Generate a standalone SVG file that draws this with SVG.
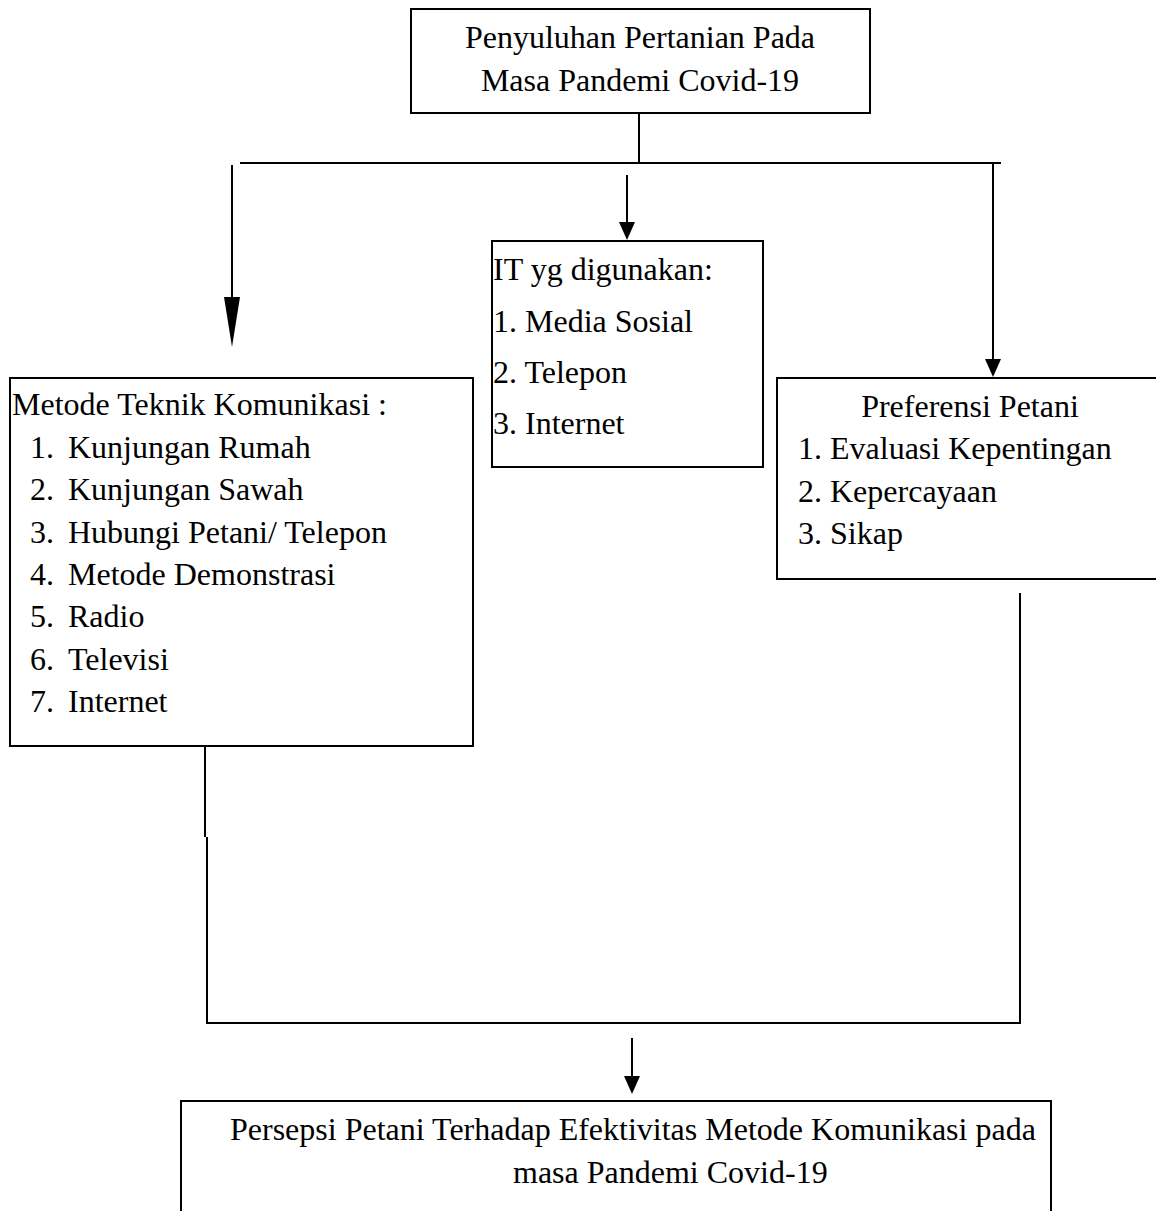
<svg xmlns="http://www.w3.org/2000/svg" width="1156" height="1211" viewBox="0 0 1156 1211">
<style>
  .box { fill: #ffffff; stroke: #000000; stroke-width: 2; }
  .ln { fill: none; stroke: #000000; stroke-width: 2; }
  .t { font-family: "Liberation Serif", "Times New Roman", serif; font-size: 32px; fill: #000000; }
  .c { text-anchor: middle; }
</style>
<defs>
  <marker id="ah" markerUnits="userSpaceOnUse" viewBox="0 0 18 16" refX="0" refY="8" markerWidth="18" markerHeight="16" orient="auto">
    <path d="M0,0 L18,8 L0,16 z" fill="#000000"/>
  </marker>
  <marker id="ahLong" markerUnits="userSpaceOnUse" viewBox="0 0 50 16" refX="0" refY="8" markerWidth="50" markerHeight="16" orient="auto">
    <path d="M0,0 L50,8 L0,16 z" fill="#000000"/>
  </marker>
</defs>
<rect width="1156" height="1211" fill="#ffffff"/>

<g id="connectors">
  <line class="ln" x1="639" y1="113" x2="639" y2="163"/>
  <line class="ln" x1="240" y1="163" x2="1001" y2="163"/>
  <line class="ln" x1="232" y1="165" x2="232" y2="297" stroke-width="3" marker-end="url(#ahLong)"/>
  <line class="ln" x1="627" y1="175" x2="627" y2="222" marker-end="url(#ah)"/>
  <line class="ln" x1="993" y1="163" x2="993" y2="359" marker-end="url(#ah)"/>
  <line class="ln" x1="205" y1="746" x2="205" y2="837" stroke-width="1.5"/>
  <polyline class="ln" points="207,837 207,1023 1020,1023 1020,593"/>
  <line class="ln" x1="632" y1="1038" x2="632" y2="1076" marker-end="url(#ah)"/>
</g>

<g id="node-top">
  <rect class="box" x="411" y="9" width="459" height="104"/>
  <text class="t c" x="640" y="48">Penyuluhan Pertanian Pada</text>
  <text class="t c" x="640" y="91">Masa Pandemi Covid-19</text>
</g>

<g id="node-it">
  <rect class="box" x="492" y="241" width="271" height="226"/>
  <text class="t" x="493" y="280">IT yg digunakan:</text>
  <text class="t" x="493" y="332">1. Media Sosial</text>
  <text class="t" x="493" y="383">2. Telepon</text>
  <text class="t" x="493" y="434">3. Internet</text>
</g>

<g id="node-metode">
  <rect class="box" x="10" y="378" width="463" height="368"/>
  <text class="t" x="12" y="415">Metode Teknik Komunikasi :</text>
  <text class="t" x="30" y="458">1.</text><text class="t" x="68" y="458">Kunjungan Rumah</text>
  <text class="t" x="30" y="500">2.</text><text class="t" x="68" y="500">Kunjungan Sawah</text>
  <text class="t" x="30" y="543">3.</text><text class="t" x="68" y="543">Hubungi Petani/ Telepon</text>
  <text class="t" x="30" y="585">4.</text><text class="t" x="68" y="585">Metode Demonstrasi</text>
  <text class="t" x="30" y="627">5.</text><text class="t" x="68" y="627">Radio</text>
  <text class="t" x="30" y="670">6.</text><text class="t" x="68" y="670">Televisi</text>
  <text class="t" x="30" y="712">7.</text><text class="t" x="68" y="712">Internet</text>
</g>

<g id="node-preferensi">
  <rect class="box" x="777" y="378" width="384" height="201"/>
  <text class="t c" x="970" y="417">Preferensi Petani</text>
  <text class="t" x="798" y="459">1. Evaluasi Kepentingan</text>
  <text class="t" x="798" y="502">2. Kepercayaan</text>
  <text class="t" x="798" y="544">3. Sikap</text>
</g>

<g id="node-persepsi">
  <rect class="box" x="181" y="1101" width="870" height="120"/>
  <text class="t" x="230" y="1140">Persepsi Petani Terhadap Efektivitas Metode Komunikasi pada</text>
  <text class="t" x="513" y="1183">masa Pandemi Covid-19</text>
</g>
</svg>
